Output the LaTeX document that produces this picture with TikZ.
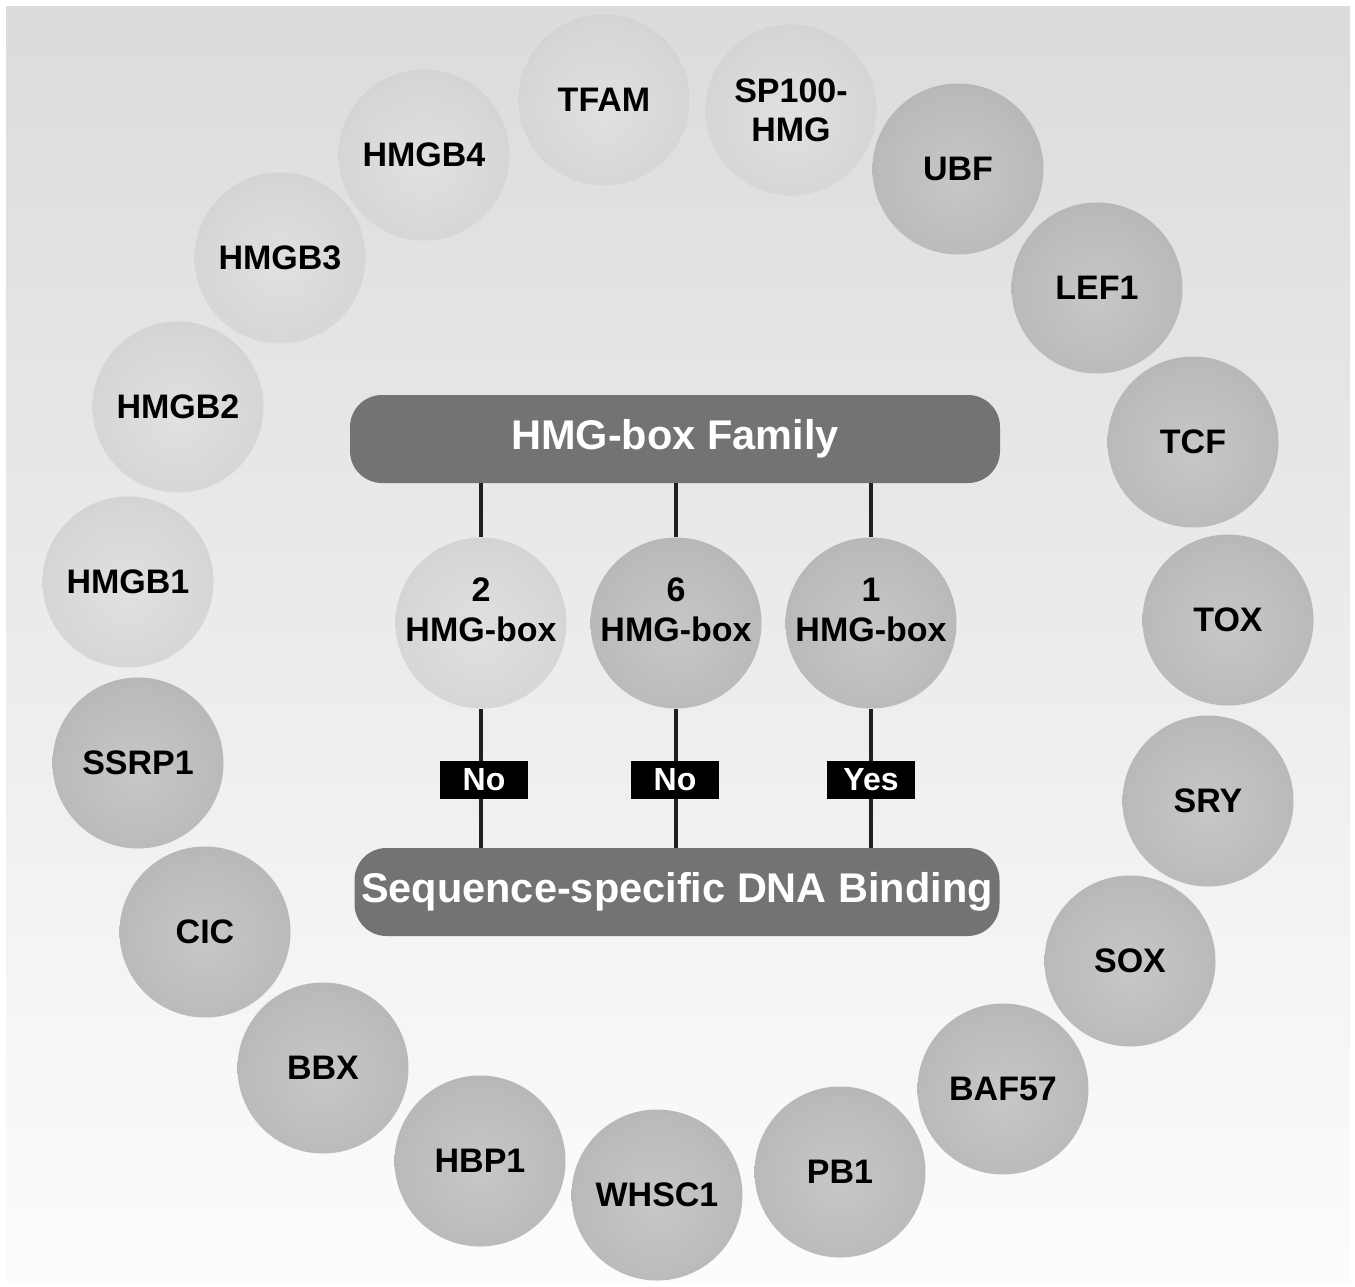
\documentclass[tikz,border=0pt]{standalone}
\usepackage{fontspec}
\setmainfont{Liberation Sans}
\definecolor{lbA}{gray}{0.88}
\definecolor{lbB}{gray}{0.84}
\definecolor{lbM}{gray}{0.77}
\definecolor{lbC}{gray}{0.63}
\definecolor{dbA}{gray}{0.78}
\definecolor{dbB}{gray}{0.73}
\definecolor{dbM}{gray}{0.65}
\definecolor{dbC}{gray}{0.51}
\definecolor{bgtop}{gray}{0.86}
\definecolor{bgbot}{gray}{0.99}
\definecolor{barc}{gray}{0.45}
\definecolor{linec}{gray}{0.12}
\pgfdeclareradialshading{lightball}{\pgfpoint{0bp}{-3bp}}{color(0bp)=(lbA); color(24bp)=(lbB); color(42bp)=(lbM); color(50bp)=(lbC); color(80bp)=(lbC)}
\pgfdeclareradialshading{darkball}{\pgfpoint{0bp}{-3bp}}{color(0bp)=(dbA); color(24bp)=(dbB); color(42bp)=(dbM); color(50bp)=(dbC); color(80bp)=(dbC)}
\begin{document}
\begin{tikzpicture}[x=1pt,y=-1pt,
  ballL/.style={circle, minimum size=171pt, inner sep=0pt, shading=lightball, font=\fontsize{34}{39}\selectfont\bfseries, align=center},
  ballD/.style={circle, minimum size=171pt, inner sep=0pt, shading=darkball, font=\fontsize{34}{39}\selectfont\bfseries, align=center},
  lbltext/.style={inner sep=0pt, font=\fontsize{34}{40}\selectfont\bfseries, align=center},
  barbox/.style={rounded corners=32pt, fill=barc, text=white, font=\fontsize{41.5}{48}\selectfont\bfseries, minimum width=650pt, minimum height=88pt, inner sep=0pt},
  ynbox/.style={fill=black, text=white, minimum width=88pt, minimum height=38pt, inner sep=0pt, font=\fontsize{32}{36}\selectfont\bfseries},
  conn/.style={draw=linec, line width=3.5pt}]
\useasboundingbox (0,0) rectangle (1355,1286);
\fill[white] (0,0) rectangle (1355,1286);
\shade[top color=bgtop, bottom color=bgbot] (6,6) rectangle (1350,1281);

% outer ring
\node[ballL] (tfam) at (604,100) {TFAM};
\node[ballL] (sp100) at (791,110) {SP100-\\HMG};
\node[ballD] (ubf) at (958,169) {UBF};
\node[ballD] (lef1) at (1097,288) {LEF1};
\node[ballD] (tcf) at (1193,442) {TCF};
\node[ballD] (tox) at (1228,620) {TOX};
\node[ballD] (sry) at (1208,801) {SRY};
\node[ballD] (sox) at (1130,961) {SOX};
\node[ballD] (baf57) at (1003,1089) {BAF57};
\node[ballD] (pb1) at (840,1172) {PB1};
\node[ballD] (whsc1) at (657,1195) {WHSC1};
\node[ballD] (hbp1) at (480,1161) {HBP1};
\node[ballD] (bbx) at (323,1068) {BBX};
\node[ballD] (cic) at (205,932) {CIC};
\node[ballD] (ssrp1) at (138,763) {SSRP1};
\node[ballL] (hmgb1) at (128,582) {HMGB1};
\node[ballL] (hmgb2) at (178,407) {HMGB2};
\node[ballL] (hmgb3) at (280,258) {HMGB3};
\node[ballL] (hmgb4) at (424,155) {HMGB4};

% bars
\node[barbox] (fam) at (675,439) {HMG-box Family};
\node[barbox, minimum width=645pt] (dna) at (677,892) {Sequence-specific DNA Binding};

% middle circles
\node[ballL] (m1) at (481,623) {};
\node[ballD] (m2) at (676,623) {};
\node[ballD] (m3) at (871,623) {};
\node[lbltext] (m1t) at (481,610) {2\\HMG-box};
\node[lbltext] (m2t) at (676,610) {6\\HMG-box};
\node[lbltext] (m3t) at (871,610) {1\\HMG-box};

% connectors
\draw[conn] (fam.south -| m1) -- (m1.north);
\draw[conn] (fam.south -| m2) -- (m2.north);
\draw[conn] (fam.south -| m3) -- (m3.north);
\draw[conn] (m1.south) -- (dna.north -| m1);
\draw[conn] (m2.south) -- (dna.north -| m2);
\draw[conn] (m3.south) -- (dna.north -| m3);

\node[ynbox] (y1) at (484,780) {No};
\node[ynbox] (y2) at (675,780) {No};
\node[ynbox] (y3) at (871,780) {Yes};
\end{tikzpicture}
\end{document}
